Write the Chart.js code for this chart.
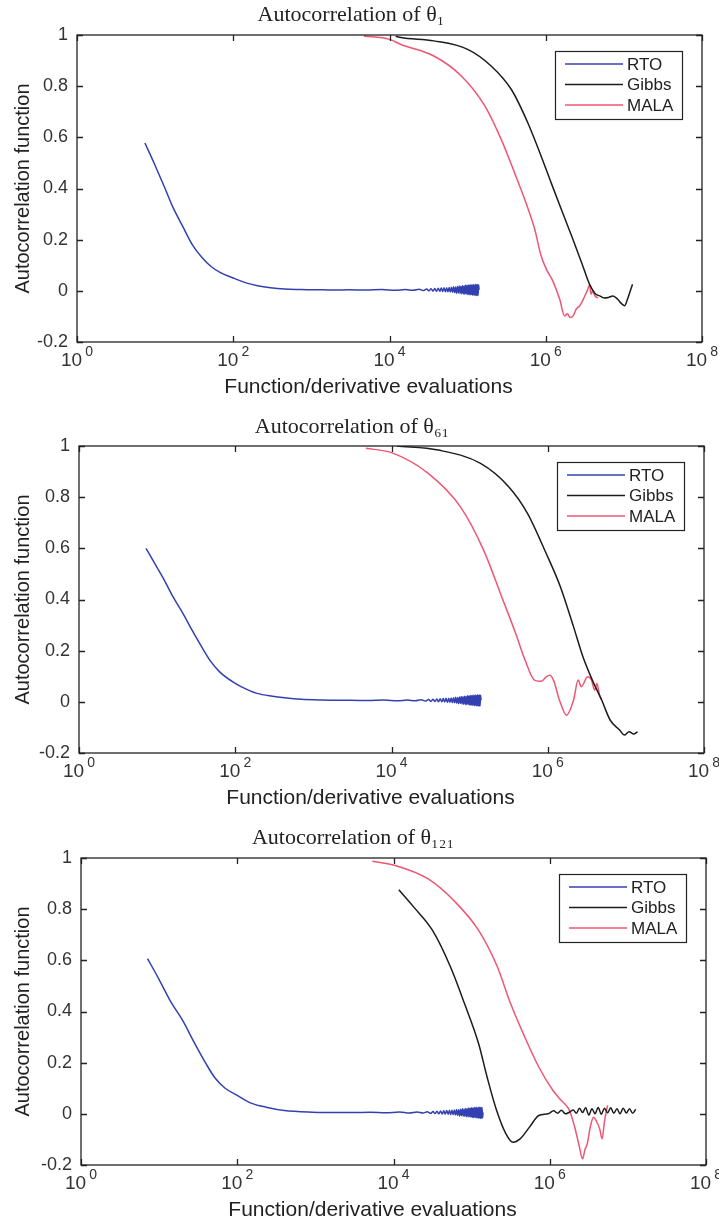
<!DOCTYPE html>
<html>
<head>
<meta charset="utf-8">
<script src="https://cdn.jsdelivr.net/npm/chart.js@4.4.1/dist/chart.umd.min.js"></script>
<style>
  html, body { margin: 0; padding: 0; background: #fff; }
  canvas { display: block; }
</style>
</head>
<body>
<canvas id="c1" width="719" height="410"></canvas>
<canvas id="c2" width="719" height="410"></canvas>
<canvas id="c3" width="719" height="406"></canvas>
<script>
// axis ticks and texts
const xTickValues = [1, 1e2, 1e4, 1e6, 1e8]
const xTickBase = '10'
const xTickExponents = ['0', '2', '4', '6', '8']
const xAxisTitle = 'Function/derivative evaluations'
const yAxisTitle = 'Autocorrelation function'
const seriesNames = ['RTO', 'Gibbs', 'MALA']
const titles = ['Autocorrelation of θ₁', 'Autocorrelation of θ₆₁', 'Autocorrelation of θ₁₂₁']

// RTO noisy tail, shared evaluation counts
const rtoTailX = [3000, 5000, 8000, 12000, 16000, 20000, 24000, 27000, 30000, 32000, 34000, 36000, 38000, 40000, 42000, 44000, 46000, 48000, 50000, 52000, 54000, 56000, 58000, 60000,
  62000, 64000, 66000, 68000, 70000, 72000, 74000, 76000, 78000, 80000, 82000, 84000, 86000, 88000, 90000, 92000, 94000, 96000, 98000, 100000,
  102000, 104000, 106000, 108000, 110000, 112000, 114000, 116000, 118000, 120000, 122000, 124000, 126000, 128000, 130000, 132000, 134000, 136000, 138000, 140000]

// theta_1
const rto1X = [7.4, 10, 13.2, 17, 22.9, 30, 39.8, 52, 67.6, 100, 150, 204, 300, 457, 700, 1000, 1400, 2000]
const rto1Y = [0.578, 0.49, 0.405, 0.325, 0.248, 0.18, 0.13, 0.095, 0.072, 0.05, 0.03, 0.02, 0.012, 0.007, 0.005, 0.004, 0.004, 0.003]
const rto1TailY = [0.004, 0.003, 0.005, 0.002, 0.005, 0.002, 0.006, 0.001, 0.007, 0.000, 0.008, -0.001, 0.009, -0.002, 0.010, -0.002, 0.011, -0.003, 0.012, -0.004, 0.012, -0.004, 0.013, -0.005,
  0.014, -0.006, 0.016, -0.007, 0.015, -0.009, 0.017, -0.008, 0.019, -0.010, 0.018, -0.011, 0.020, -0.012, 0.019, -0.013, 0.022, -0.012, 0.021, -0.014,
  0.023, -0.015, 0.022, -0.016, 0.024, -0.014, 0.023, -0.017, 0.025, -0.016, 0.022, -0.018, 0.026, -0.017, 0.024, -0.019, 0.025, -0.018, 0.024, 0.004]
const gibbs1X = [12000, 14000, 37000, 100000, 200000, 363000, 589000, 871000, 1170000, 1580000, 2140000, 2880000, 3630000, 4270000, 4900000, 5620000, 6310000, 7240000, 8320000, 9330000, 10200000, 11200000, 12900000]
const gibbs1Y = [0.995, 0.99, 0.977, 0.944, 0.879, 0.787, 0.657, 0.527, 0.423, 0.319, 0.215, 0.11, 0.026, -0.01, -0.02, -0.028, -0.026, -0.02, -0.033, -0.05, -0.058, -0.03, 0.026]
const mala1X = [4700, 10000, 14000, 37000, 83000, 166000, 269000, 398000, 537000, 724000, 871000, 1020000, 1230000, 1510000, 1740000, 1900000, 2040000, 2240000, 2450000, 2690000, 2880000, 3160000, 3390000, 3630000, 3800000, 3980000, 4270000, 4680000]
const mala1Y = [0.996, 0.983, 0.963, 0.918, 0.84, 0.723, 0.592, 0.462, 0.358, 0.24, 0.137, 0.084, 0.039, -0.033, -0.098, -0.09, -0.104, -0.098, -0.072, -0.06, -0.046, -0.02, 0.0, 0.022, -0.013, 0.0, -0.02, -0.028]

// theta_61
const rto2X = [7.2, 10, 12.3, 16, 21.4, 28, 37.2, 48, 63.1, 100, 150, 190, 300, 427, 700, 1290, 2000]
const rto2Y = [0.60, 0.525, 0.477, 0.41, 0.346, 0.28, 0.215, 0.16, 0.117, 0.072, 0.045, 0.033, 0.022, 0.016, 0.01, 0.007, 0.006]
const rto2TailY = [0.006, 0.005, 0.007, 0.004, 0.007, 0.004, 0.008, 0.003, 0.009, 0.002, 0.010, 0.001, 0.011, 0.000, 0.012, 0.000, 0.013, -0.001, 0.014, -0.002, 0.014, -0.002, 0.015, -0.003,
  0.016, -0.004, 0.018, -0.005, 0.017, -0.007, 0.019, -0.006, 0.021, -0.008, 0.020, -0.009, 0.022, -0.010, 0.021, -0.011, 0.024, -0.010, 0.023, -0.012,
  0.025, -0.013, 0.024, -0.014, 0.026, -0.012, 0.025, -0.015, 0.027, -0.014, 0.024, -0.016, 0.028, -0.015, 0.026, -0.017, 0.027, -0.016, 0.026, 0.006]
const gibbs2X = [11700, 39800, 138000, 316000, 550000, 955000, 1450000, 2140000, 2820000, 3720000, 4900000, 6310000, 8320000, 9550000, 11000000, 12600000, 14100000]
const gibbs2Y = [1.0, 0.984, 0.932, 0.841, 0.737, 0.58, 0.45, 0.293, 0.176, 0.085, 0.007, -0.072, -0.11, -0.13, -0.117, -0.126, -0.117]
const mala2X = [4700, 10000, 29500, 75900, 151000, 257000, 389000, 513000, 676000, 832000, 955000, 1070000, 1200000, 1410000, 1740000, 2140000, 2450000, 2690000, 3240000, 3630000, 3980000, 4270000, 4570000, 4900000]
const mala2Y = [0.991, 0.974, 0.893, 0.763, 0.593, 0.411, 0.267, 0.163, 0.085, 0.08, 0.098, 0.104, 0.08, 0.007, -0.052, 0.007, 0.085, 0.059, 0.098, 0.085, 0.046, 0.072, 0.03, 0.007]

// theta_121
const rto3X = [7.1, 10, 14, 20, 28, 39.8, 52, 70, 100, 150, 234, 400, 912, 2000]
const rto3Y = [0.607, 0.525, 0.44, 0.365, 0.28, 0.196, 0.14, 0.1, 0.072, 0.042, 0.026, 0.013, 0.0065, 0.005]
const rto3TailY = [0.005, 0.006, 0.004, 0.007, 0.003, 0.007, 0.003, 0.008, 0.002, 0.009, 0.001, 0.010, 0.000, 0.011, -0.001, 0.012, -0.001, 0.013, -0.002, 0.014, -0.003, 0.014, -0.003, 0.015,
  -0.005, 0.017, -0.006, 0.016, -0.008, 0.018, -0.007, 0.020, -0.009, 0.019, -0.010, 0.021, -0.011, 0.020, -0.012, 0.023, -0.011, 0.022, -0.013, 0.024,
  -0.014, 0.023, -0.015, 0.025, -0.013, 0.024, -0.016, 0.026, -0.015, 0.023, -0.017, 0.027, -0.016, 0.025, -0.018, 0.026, -0.017, 0.024, -0.016, 0.005]
const gibbs3X = [11700, 18200, 31600, 53700, 81300, 123000, 158000, 209000, 275000, 339000, 417000, 550000, 724000, 955000, 1120000, 1260000, 1410000, 1580000, 1780000, 2000000, 2190000, 2400000, 2630000, 2880000, 3160000, 3470000, 3800000, 4170000, 4570000, 5010000, 5500000, 6030000, 6610000, 7240000, 7940000, 8710000, 9550000, 10500000, 11500000, 12600000]
const gibbs3Y = [0.876, 0.808, 0.717, 0.574, 0.43, 0.274, 0.143, 0.013, -0.078, -0.111, -0.098, -0.052, -0.0065, 0.0, 0.012, 0.002, 0.014, 0.0, 0.006, 0.015, 0.002, 0.022, 0.005, 0.024, -0.005, 0.02, 0.0, 0.025, -0.002, 0.022, 0.004, 0.024, 0.002, 0.02, 0.0, 0.022, 0.003, 0.02, 0.002, 0.018]
const mala3X = [5370, 10500, 27500, 61700, 123000, 214000, 316000, 479000, 724000, 1100000, 1410000, 1740000, 1950000, 2140000, 2400000, 2630000, 2820000, 3020000, 3310000, 3630000, 3980000, 4370000, 4680000, 5010000, 5500000]
const mala3Y = [0.987, 0.971, 0.919, 0.828, 0.717, 0.574, 0.43, 0.3, 0.183, 0.091, 0.052, 0.02, -0.02, -0.065, -0.13, -0.176, -0.14, -0.117, -0.05, -0.013, -0.03, -0.06, -0.098, -0.03, 0.033]

const colors = ['#3340b2', '#1c1c1c', '#ef5672']
const sans = '"Liberation Sans", Arial, sans-serif'

const toPoints = (xs, ys) => xs.map((x, i) => ({ x: x, y: ys[i] }))

// MATLAB style box with inward ticks on all four sides
const boxPlugin = {
  id: 'matlabBox',
  afterDatasetsDraw(chart) {
    const { ctx, chartArea: a, scales } = chart
    ctx.save()
    ctx.strokeStyle = '#222'
    ctx.lineWidth = 1.3
    ctx.strokeRect(a.left, a.top, a.right - a.left, a.bottom - a.top)
    ctx.beginPath()
    scales.x.ticks.forEach(t => {
      const px = Math.round(scales.x.getPixelForValue(t.value)) + 0.5
      ctx.moveTo(px, a.bottom); ctx.lineTo(px, a.bottom - 6)
      ctx.moveTo(px, a.top); ctx.lineTo(px, a.top + 6)
    })
    scales.y.ticks.forEach(t => {
      const py = Math.round(scales.y.getPixelForValue(t.value)) + 0.5
      ctx.moveTo(a.left, py); ctx.lineTo(a.left + 6, py)
      ctx.moveTo(a.right, py); ctx.lineTo(a.right - 6, py)
    })
    ctx.stroke()
    ctx.restore()
  }
}

// legend drawn in a box inside the top right corner
const legendBoxPlugin = {
  id: 'legendBox',
  afterDatasetsDraw(chart) {
    const { ctx, chartArea: a } = chart
    const w = 127, h = 68
    const left = a.right - 20 - w, top = a.top + 16
    ctx.save()
    ctx.fillStyle = '#fff'
    ctx.fillRect(left, top, w, h)
    ctx.strokeStyle = '#222'
    ctx.lineWidth = 1.2
    ctx.strokeRect(left + 0.5, top + 0.5, w, h)
    ctx.font = '17px ' + sans
    ctx.textBaseline = 'middle'
    chart.data.datasets.forEach((ds, i) => {
      const yy = top + 13 + i * 20.5
      ctx.strokeStyle = ds.borderColor
      ctx.lineWidth = 1.6
      ctx.beginPath()
      ctx.moveTo(left + 10, yy); ctx.lineTo(left + 68, yy)
      ctx.stroke()
      ctx.fillStyle = '#222'
      ctx.fillText(ds.label, left + 72, yy + 1)
    })
    ctx.restore()
  }
}

// x tick labels as 10 with a raised exponent, and the x axis title
const xLabelPlugin = {
  id: 'xLabels',
  afterDraw(chart) {
    const { ctx, chartArea: a, scales: { x } } = chart
    ctx.save()
    ctx.fillStyle = '#333'
    ctx.textAlign = 'left'
    ctx.textBaseline = 'alphabetic'
    x.ticks.forEach((t, i) => {
      const px = x.getPixelForValue(t.value)
      ctx.font = '19px ' + sans
      const wBase = ctx.measureText(xTickBase).width
      ctx.font = '14px ' + sans
      const wExp = ctx.measureText(xTickExponents[i]).width
      const left = px - (wBase + 3 + wExp) / 2
      ctx.font = '19px ' + sans
      ctx.fillText(xTickBase, left, a.bottom + 24)
      ctx.font = '14px ' + sans
      ctx.fillText(xTickExponents[i], left + wBase + 3, a.bottom + 14)
    })
    ctx.fillStyle = '#222'
    ctx.font = '21px ' + sans
    ctx.textAlign = 'center'
    ctx.textBaseline = 'middle'
    ctx.fillText(xAxisTitle, (a.left + a.right) / 2 - 21, a.bottom + 45)
    ctx.restore()
  }
}

function makeChart(id, title, rto, gibbs, mala, area) {
  const canvas = document.getElementById(id)
  const H = canvas.height
  const sets = [rto, gibbs, mala]
  return new Chart(canvas, {
    type: 'line',
    data: {
      datasets: sets.map((pts, i) => ({
        label: seriesNames[i],
        data: pts,
        borderColor: colors[i],
        borderWidth: 1.5,
        pointRadius: 0,
        fill: false,
        cubicInterpolationMode: 'monotone'
      }))
    },
    options: {
      responsive: false,
      animation: false,
      devicePixelRatio: 1,
      layout: { padding: { left: 0, right: 719 - area.right, top: 0, bottom: 0 } },
      plugins: {
        legend: { display: false },
        tooltip: { enabled: false },
        title: {
          display: true,
          text: title,
          color: '#222',
          font: { family: '"Liberation Serif", "Times New Roman", serif', size: 22, weight: 'normal' },
          padding: { top: area.titleY - 13.2, bottom: area.top - area.titleY - 13.2 }
        }
      },
      scales: {
        x: {
          type: 'logarithmic',
          min: 1,
          max: 1e8,
          grid: { display: false, drawTicks: false },
          border: { display: false },
          afterBuildTicks: s => { s.ticks = xTickValues.map(v => ({ value: v })) },
          afterFit: s => {
            s.height = H - area.bottom
            s.paddingLeft = 0
            s.paddingRight = 0
          },
          ticks: { display: false },
          title: { display: false }
        },
        y: {
          min: -0.2,
          max: 1,
          grid: { display: false, drawTicks: false },
          border: { display: false },
          afterFit: s => {
            s.width = area.left
            s.paddingTop = 0
            s.paddingBottom = 0
          },
          ticks: {
            stepSize: 0.2,
            padding: 9,
            color: '#333',
            font: { family: sans, size: 18 },
            callback: v => String(Math.round(v * 10) / 10)
          },
          title: {
            display: true,
            text: yAxisTitle,
            color: '#222',
            font: { family: sans, size: 20 },
            padding: { top: 11, bottom: 0 }
          }
        }
      }
    },
    plugins: [boxPlugin, legendBoxPlugin, xLabelPlugin]
  })
}

makeChart('c1', titles[0],
  toPoints(rto1X.concat(rtoTailX), rto1Y.concat(rto1TailY)),
  toPoints(gibbs1X, gibbs1Y), toPoints(mala1X, mala1Y),
  { left: 77, right: 702, top: 35, bottom: 342, titleY: 15 })

makeChart('c2', titles[1],
  toPoints(rto2X.concat(rtoTailX), rto2Y.concat(rto2TailY)),
  toPoints(gibbs2X, gibbs2Y), toPoints(mala2X, mala2Y),
  { left: 79, right: 704, top: 36, bottom: 343, titleY: 17 })

makeChart('c3', titles[2],
  toPoints(rto3X.concat(rtoTailX), rto3Y.concat(rto3TailY)),
  toPoints(gibbs3X, gibbs3Y), toPoints(mala3X, mala3Y),
  { left: 81, right: 706, top: 38, bottom: 345, titleY: 18 })
</script>
</body>
</html>
